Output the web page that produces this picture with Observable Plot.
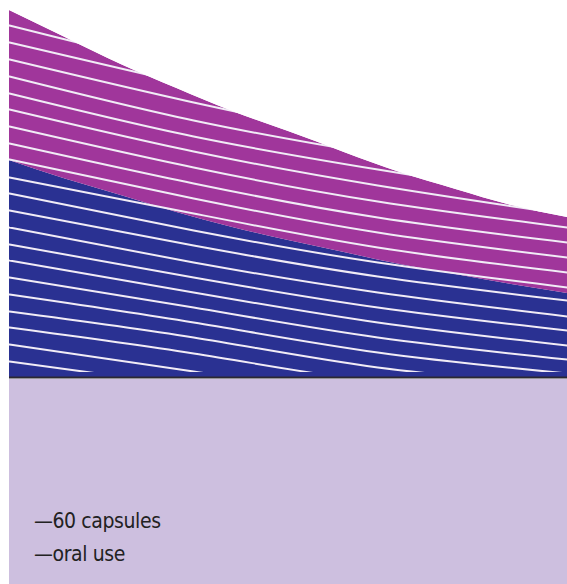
<!DOCTYPE html>
<html>
<head>
<meta charset="utf-8">
<script src="https://cdn.jsdelivr.net/npm/d3@7"></script>
<script src="https://cdn.jsdelivr.net/npm/@observablehq/plot@0.6"></script>
<style>
  html, body { margin: 0; padding: 0; background: #fff; }
  #chart svg { display: block; }
  #panel {
    margin-left: 9px;
    width: 558px;
    height: 205px;
    background: #cdbfdf;
    position: relative;
    font-family: "Liberation Sans Narrow", "DejaVu Sans Condensed", sans-serif;
    color: #222;
  }
  #panel div { position: absolute; left: 25px; font-size: 21px; white-space: nowrap; letter-spacing: -0.4px; }
</style>
</head>
<body>
<div id="chart"></div>
<div id="panel">
  <div style="top:130px">—60 capsules</div>
  <div style="top:163px">—oral use</div>
</div>
<script>
// curve sample positions (percent of width)
const curveX = [0, 10, 20, 30, 40, 50, 60, 70, 80, 90, 100];
// upper (magenta) boundary, height above baseline
const topBand = [367, 340, 313, 289, 266, 246, 225, 205, 188, 172, 160];
// lower (blue) boundary, height above baseline
const lowBand = [217, 198.5, 182, 165, 150, 137, 125, 113, 103, 93, 84];

// white stripe sample positions (percent of width)
const stripeX = [0, 33, 66, 100];
// each stripe's height above baseline at stripeX
const stripes = [
  [352, 307, 269, 237],
  [335, 292, 254, 222],
  [318, 275, 238, 207],
  [301, 257, 223, 192],
  [284, 241, 208, 177],
  [268, 226, 192, 163],
  [251, 210, 176, 150],
  [234, 194, 160, 135],
  [218, 179, 145, 120],
  [200, 164, 130, 105],
  [184, 147, 115, 90],
  [167, 132, 101, 77],
  [150, 115, 85, 61],
  [133, 100, 70, 47],
  [117, 85, 55, 32],
  [100, 70, 40, 18],
  [83, 55, 25, 4],
  [66, 40, 10, -8],
  [50, 24, -5, -23],
  [33, 6, -21, -43],
  [16, -9, -35, -58]
];

const bands = curveX.map((x, i) => ({x, top: topBand[i], low: lowBand[i]}));
const stripeRows = stripes.flatMap((s, k) => s.map((v, j) => ({line: k, x: stripeX[j], v})));

const plot = Plot.plot({
  width: 567,
  height: 379,
  marginLeft: 9,
  marginRight: 0,
  marginTop: 0,
  marginBottom: 7,
  x: {domain: [0, 100], axis: null},
  y: {domain: [5, 377], axis: null},
  marks: [
    Plot.areaY(bands, {x: "x", y1: 0, y2: "low", fill: "#2a3192", curve: "natural"}),
    Plot.areaY(bands, {x: "x", y1: "low", y2: "top", fill: "#a0369b", curve: "natural"}),
    Plot.line(stripeRows, {x: "x", y: "v", z: "line", stroke: "#f1ecf6", strokeWidth: 2, curve: "natural", clip: true}),
    Plot.areaY(bands, {x: "x", y1: "top", y2: 380, fill: "#ffffff", curve: "natural"}),
    Plot.ruleY([0], {stroke: "#2b2833", strokeWidth: 2})
  ]
});
document.getElementById("chart").appendChild(plot);
</script>
</body>
</html>
